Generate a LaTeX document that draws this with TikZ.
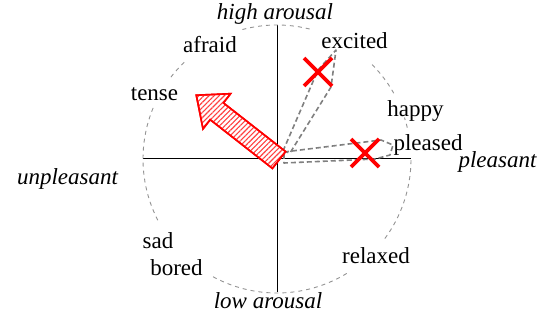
\documentclass[tikz,border=0pt]{standalone}
\usepackage{fontspec}
\setmainfont{Liberation Serif}
\usetikzlibrary{patterns.meta,calc}
\begin{document}
\begin{tikzpicture}[x=1pt,y=-1pt,
  lbl/.style={anchor=base, inner sep=0pt, font=\fontsize{23}{27}\selectfont},
  ilbl/.style={anchor=base, inner sep=0pt, font=\fontsize{23}{27}\selectfont\itshape},
  axis/.style={line width=1pt, black},
  ring/.style={gray!85, line width=0.9pt, dash pattern=on 4pt off 4pt},
  hull/.style={gray, line width=1.6pt, dash pattern=on 5pt off 3pt, line join=round},
  cross/.style={red, line width=3.8pt},
  bigarrow/.style={draw=red, line width=1.6pt, fill=white, line join=miter},
]
\useasboundingbox (0,0) rectangle (551,320);
% axes
\coordinate (L) at (143,159);
\coordinate (R) at (411,159);
\coordinate (T) at (277,25);
\coordinate (B) at (277,292);
\draw[axis] (L) -- (R);
\draw[axis] (T) -- (B);
% dashed circle segments
\foreach \a/\b in {75.9/106.6, 133.8/142.5, 157.6/208, 241.5/301.5, 323.6/360, 13.5/18, 29.4/46.5}{
  \draw[ring] plot[domain=\a:\b, samples=40] ({277+134*cos(\x)}, {159-134*sin(\x)});
}
% dashed hulls
\draw[hull] (283,151) -- (318,70) -- (336,50) -- (331,87) -- (290,153) -- cycle;
\draw[hull] (284,152) -- (381,140) -- (393,145) -- (390,155) -- (375,159) -- (284,163) -- cycle;
% big hatched arrow
\draw[bigarrow] (285.6,151.6) -- (223.4,102.9) -- (230.6,93.7) -- (196.3,95.2) -- (203,128.9) -- (210.2,119.7) -- (272.4,168.4) -- cycle;
\fill[pattern={Lines[angle=45, distance=3.6pt, line width=1.1pt]}, pattern color=red!75]
  (285.6,151.6) -- (223.4,102.9) -- (230.6,93.7) -- (196.3,95.2) -- (203,128.9) -- (210.2,119.7) -- (272.4,168.4) -- cycle;
\draw[draw=red, line width=1.6pt, line join=miter] (285.6,151.6) -- (223.4,102.9) -- (230.6,93.7) -- (196.3,95.2) -- (203,128.9) -- (210.2,119.7) -- (272.4,168.4) -- cycle;
% red crosses
\coordinate (x1) at (318,72);
\coordinate (x2) at (365,153);
\draw[cross] ($(x1)+(-14,-14)$) -- ($(x1)+(14,14)$);
\draw[cross] ($(x1)+(-14,14)$) -- ($(x1)+(14,-14)$);
\draw[cross] ($(x2)+(-14,-14)$) -- ($(x2)+(14,14)$);
\draw[cross] ($(x2)+(-14,14)$) -- ($(x2)+(14,-14)$);
% labels
\node[ilbl] (ha) at (275,20) {high arousal};
\node[ilbl] (la) at (268,308) {low arousal};
\node[ilbl] (pl) at (497.5,168) {pleasant};
\node[ilbl] (up) at (67.5,185) {unpleasant};
\node[lbl] (afraid) at (210,53) {afraid};
\node[lbl] (tense) at (154.5,101) {tense};
\node[lbl] (excited) at (354.5,49) {excited};
\node[lbl] (happy) at (415.5,117) {happy};
\node[lbl] (pleased) at (428,151) {pleased};
\node[lbl] (sad) at (158,248) {sad};
\node[lbl] (bored) at (176.5,276) {bored};
\node[lbl] (relaxed) at (376,263) {relaxed};
\end{tikzpicture}
\end{document}
